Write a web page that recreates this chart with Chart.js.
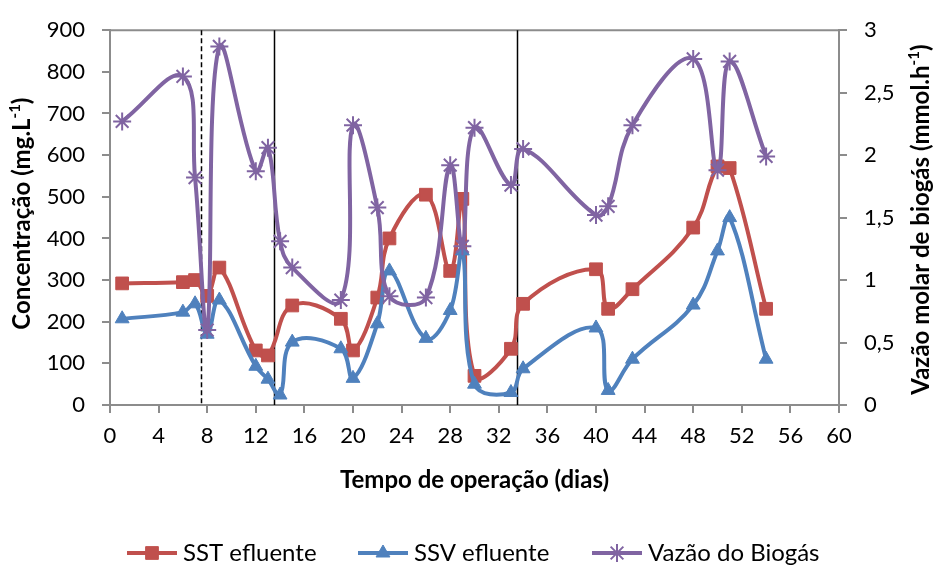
<!DOCTYPE html>
<html>
<head>
<meta charset="utf-8">
<script src="https://cdn.jsdelivr.net/npm/chart.js@4/dist/chart.umd.min.js"></script>
<style>
html,body{margin:0;padding:0;background:#fff;}
</style>
</head>
<body>
<canvas id="chart" width="935" height="566"></canvas>
<script>
//Data
const sstDays = [1,6,7,8,9,12,13,15,19,20,22,23,26,28,29,30,33,34,40,41,43,48,50,51,54];
const sstValues = [292,295,300,262,330,131,119,239,207,131,258,400,505,322,495,70,135,243,326,231,278,426,573,569,231];

const ssvDays = [1,6,7,8,9,12,13,14,15,19,20,22,23,26,28,29,30,33,34,40,41,43,48,50,51,54];
const ssvValues = [207,223,243,170,252,93,62,24,151,135,64,195,322,160,227,370,50,30,87,185,35,110,240,370,450,110];

const gasDays = [1,6,7,8,9,12,13,14,15,19,20,22,23,26,28,29,30,33,34,40,41,43,48,50,51,54];
const gasValues = [2.27,2.63,1.82,0.6,2.87,1.87,2.06,1.31,1.1,0.84,2.24,1.58,0.87,0.86,1.92,1.27,2.22,1.76,2.05,1.52,1.59,2.24,2.77,1.88,2.75,1.99];

const seriesNames = ['SST efluente','SSV efluente','Vazão do Biogás'];
const phaseLines = [7.5, 13.5, 33.5];
const phaseDashed = [true, false, false];

const colSST = '#C0504D';
const colSSV = '#4F81BD';
const colGas = '#8064A2';
const axisGray = '#8C8C8C';
const FONT = 'Lato';

const toPoints = (xs, ys) => xs.map((x,i) => ({x:x, y:ys[i]}));

// draws a title with a superscript piece, rotated -90deg
function drawSupTitle(ctx, parts, cx, cy){
    ctx.save();
    ctx.translate(cx, cy);
    ctx.rotate(-Math.PI/2);
    ctx.fillStyle = '#000';
    ctx.textBaseline = 'middle';
    let total = 0;
    for(const p of parts){
        ctx.font = p[1] ? `bold 15px ${FONT}` : `bold 24px ${FONT}`;
        total += ctx.measureText(p[0]).width;
    }
    let x = -total/2;
    for(const p of parts){
        ctx.font = p[1] ? `bold 15px ${FONT}` : `bold 24px ${FONT}`;
        ctx.fillText(p[0], x, p[1] ? -7 : 0);
        x += ctx.measureText(p[0]).width;
    }
    ctx.restore();
}

const extras = {
    id:'extras',
    beforeDatasetsDraw(chart){
        const {ctx, chartArea:a, scales} = chart;
        ctx.save();
        ctx.strokeStyle = axisGray;
        ctx.lineWidth = 2;
        ctx.beginPath();
        ctx.moveTo(a.left, a.top);
        ctx.lineTo(a.right, a.top);
        ctx.stroke();
        ctx.strokeStyle = '#000';
        for(let i=0;i<phaseLines.length;i++){
            const x = Math.round(scales.x.getPixelForValue(phaseLines[i])) + 0.5;
            ctx.lineWidth = 1.5;
            ctx.setLineDash(phaseDashed[i] ? [5,3] : []);
            ctx.beginPath();
            ctx.moveTo(x, a.top);
            ctx.lineTo(x, a.bottom);
            ctx.stroke();
        }
        ctx.restore();
    },
    afterDraw(chart){
        const {ctx, chartArea:a} = chart;
        const midY = (a.top + a.bottom)/2;
        drawSupTitle(ctx, [['Concentração (mg.L',false],['-1',true],[')',false]], 22, midY - 4);
        drawSupTitle(ctx, [['Vazão molar de biogás (mmol.h',false],['-1',true],[')',false]], 921, midY + 2);

        // legend
        const startX = [127, 358, 592];
        const legY = 553;
        chart.data.datasets.forEach((ds, i) => {
            const x0 = startX[i];
            ctx.save();
            ctx.strokeStyle = ds.borderColor;
            ctx.lineWidth = 4;
            ctx.beginPath();
            ctx.moveTo(x0, legY);
            ctx.lineTo(x0 + 50, legY);
            ctx.stroke();
            ctx.fillStyle = ds.pointBackgroundColor;
            ctx.strokeStyle = ds.borderColor;
            ctx.lineWidth = ds.pointBorderWidth;
            Chart.helpers.drawPoint(ctx, {pointStyle: ds.pointStyle, radius: ds.pointRadius, rotation: 0, borderWidth: ds.pointBorderWidth}, x0 + 25, legY);
            ctx.fillStyle = '#000';
            ctx.font = `24px ${FONT}`;
            ctx.textBaseline = 'middle';
            ctx.fillText(ds.label, x0 + 56, legY);
            ctx.restore();
        });
    }
};

const tickFont = {family: FONT, size: 22};

new Chart(document.getElementById('chart'), {
    type:'line',
    data:{
        datasets:[
            {
                label: seriesNames[0],
                data: toPoints(sstDays, sstValues),
                yAxisID:'y',
                borderColor: colSST,
                backgroundColor: colSST,
                pointBackgroundColor: colSST,
                pointStyle:'rect',
                pointRadius: 9,
                pointBorderWidth: 1,
                borderWidth: 4,
                tension: 0.4,
                order: 2
            },
            {
                label: seriesNames[1],
                data: toPoints(ssvDays, ssvValues),
                yAxisID:'y',
                borderColor: colSSV,
                backgroundColor: colSSV,
                pointBackgroundColor: colSSV,
                pointStyle:'triangle',
                pointRadius: 8,
                pointBorderWidth: 1,
                borderWidth: 4,
                tension: 0.4,
                order: 1
            },
            {
                label: seriesNames[2],
                data: toPoints(gasDays, gasValues),
                yAxisID:'y2',
                borderColor: colGas,
                backgroundColor: colGas,
                pointBackgroundColor: colGas,
                pointStyle:'star',
                pointRadius: 9,
                pointBorderWidth: 2,
                borderWidth: 4,
                tension: 0.4,
                order: 0
            }
        ]
    },
    options:{
        responsive:false,
        animation:false,
        layout:{padding:{top:29, bottom:61, left:0, right:0}},
        plugins:{
            legend:{display:false},
            tooltip:{enabled:false}
        },
        scales:{
            x:{
                type:'linear',
                min:0, max:60,
                ticks:{stepSize:4, color:'#000', font:tickFont, padding:10, maxRotation:0},
                grid:{drawOnChartArea:false, color:axisGray, lineWidth:2, tickLength:8},
                border:{color:axisGray, width:2},
                title:{display:true, text:'Tempo de operação (dias)', color:'#000', font:{family:FONT, size:24, weight:'bold'}, padding:{top:0, bottom:10}},
                afterFit(scale){ scale.height = 100; }
            },
            y:{
                position:'left',
                min:0, max:900,
                ticks:{stepSize:100, color:'#000', font:tickFont, padding:17},
                grid:{drawOnChartArea:false, color:axisGray, lineWidth:2, tickLength:8},
                border:{color:axisGray, width:2},
                afterFit(scale){ scale.width = 110; }
            },
            y2:{
                position:'right',
                min:0, max:3,
                ticks:{stepSize:0.5, color:'#000', font:tickFont, padding:17,
                    callback:(v) => String(v).replace('.', ',')},
                grid:{drawOnChartArea:false, color:axisGray, lineWidth:2, tickLength:8},
                border:{color:axisGray, width:2},
                afterFit(scale){ scale.width = 96; }
            }
        }
    },
    plugins:[extras]
});
</script>
</body>
</html>
